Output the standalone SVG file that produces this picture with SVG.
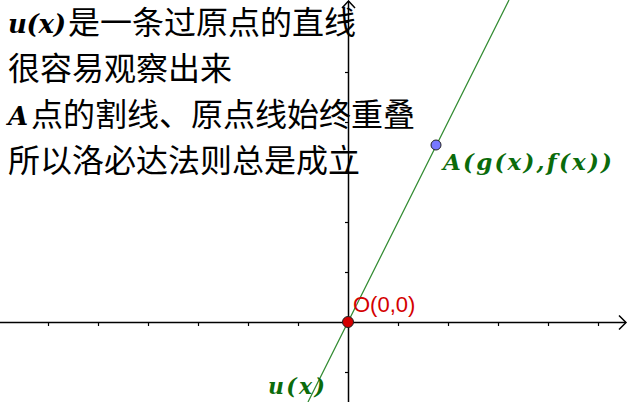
<svg xmlns="http://www.w3.org/2000/svg" width="628" height="402" viewBox="0 0 628 402">
<style>
.cn{font-family:"Noto Sans CJK SC","Noto Sans",sans-serif;font-size:32px;fill:#000}
.m{font-family:"DejaVu Serif","Liberation Serif",serif;font-style:italic;font-weight:bold}
.ax{stroke:#000;stroke-width:1.5;fill:none}
.tk{stroke:#000;stroke-width:1.2}
.pt{stroke:#222;stroke-width:1}
</style>
<rect width="628" height="402" fill="#fff"/>
<g id="axes">
<line class="ax" x1="0" y1="322.5" x2="626" y2="322.5"/>
<polyline class="ax" points="619,315.5 626,322.5 619,329.5" stroke-width="1.2"/>
<line class="ax" x1="348.5" y1="402" x2="348.5" y2="1"/>
<polyline class="ax" points="342,8 348.5,1 355,8" stroke-width="1.2"/>
<g class="tk">
<line x1="48.5" y1="322" x2="48.5" y2="326"/>
<line x1="98.5" y1="322" x2="98.5" y2="326"/>
<line x1="148.5" y1="322" x2="148.5" y2="326"/>
<line x1="198.5" y1="322" x2="198.5" y2="326"/>
<line x1="248.5" y1="322" x2="248.5" y2="326"/>
<line x1="298.5" y1="322" x2="298.5" y2="326"/>
<line x1="398.5" y1="322" x2="398.5" y2="326"/>
<line x1="448.5" y1="322" x2="448.5" y2="326"/>
<line x1="498.5" y1="322" x2="498.5" y2="326"/>
<line x1="548.5" y1="322" x2="548.5" y2="326"/>
<line x1="598.5" y1="322" x2="598.5" y2="326"/>
<line x1="345" y1="22.5" x2="348.5" y2="22.5"/>
<line x1="345" y1="72.5" x2="348.5" y2="72.5"/>
<line x1="345" y1="122.5" x2="348.5" y2="122.5"/>
<line x1="345" y1="172.5" x2="348.5" y2="172.5"/>
<line x1="345" y1="222.5" x2="348.5" y2="222.5"/>
<line x1="345" y1="272.5" x2="348.5" y2="272.5"/>
<line x1="345" y1="372.5" x2="348.5" y2="372.5"/>
</g>
</g>
<g id="connectors">
<line id="line-u" x1="308" y1="402" x2="509" y2="0" stroke="#2f8a2f" stroke-width="1.2"/>
</g>
<g id="text">
<text x="8" y="33" class="m" font-size="26" textLength="58" lengthAdjust="spacing">u(x)</text>
<text x="68" y="34" class="cn">是一条过原点的直线</text>
<text x="8" y="80" class="cn">很容易观察出来</text>
<text x="8" y="125" class="m" font-size="26">A</text>
<text x="31" y="126" class="cn">点的割线、原点线始终重叠</text>
<text x="8" y="172" class="cn">所以洛必达法则总是成立</text>
</g>
<g id="node-O">
<circle class="pt" cx="348" cy="322" r="5.5" fill="#d40000"/>
<text x="353" y="312" font-family="'Liberation Sans',Arial,sans-serif" font-size="22" fill="#d40000">O(0,0)</text>
</g>
<g id="node-A">
<circle class="pt" cx="436" cy="145" r="5" fill="#7878ff"/>
<text x="443" y="170" class="m" font-size="23" fill="#0b6b0b" textLength="169" lengthAdjust="spacing">A(g(x),f(x))</text>
</g>
<g id="label-u">
<text x="268" y="394" class="m" font-size="22" fill="#0b6b0b" textLength="57" lengthAdjust="spacing">u(x)</text>
</g>
</svg>
